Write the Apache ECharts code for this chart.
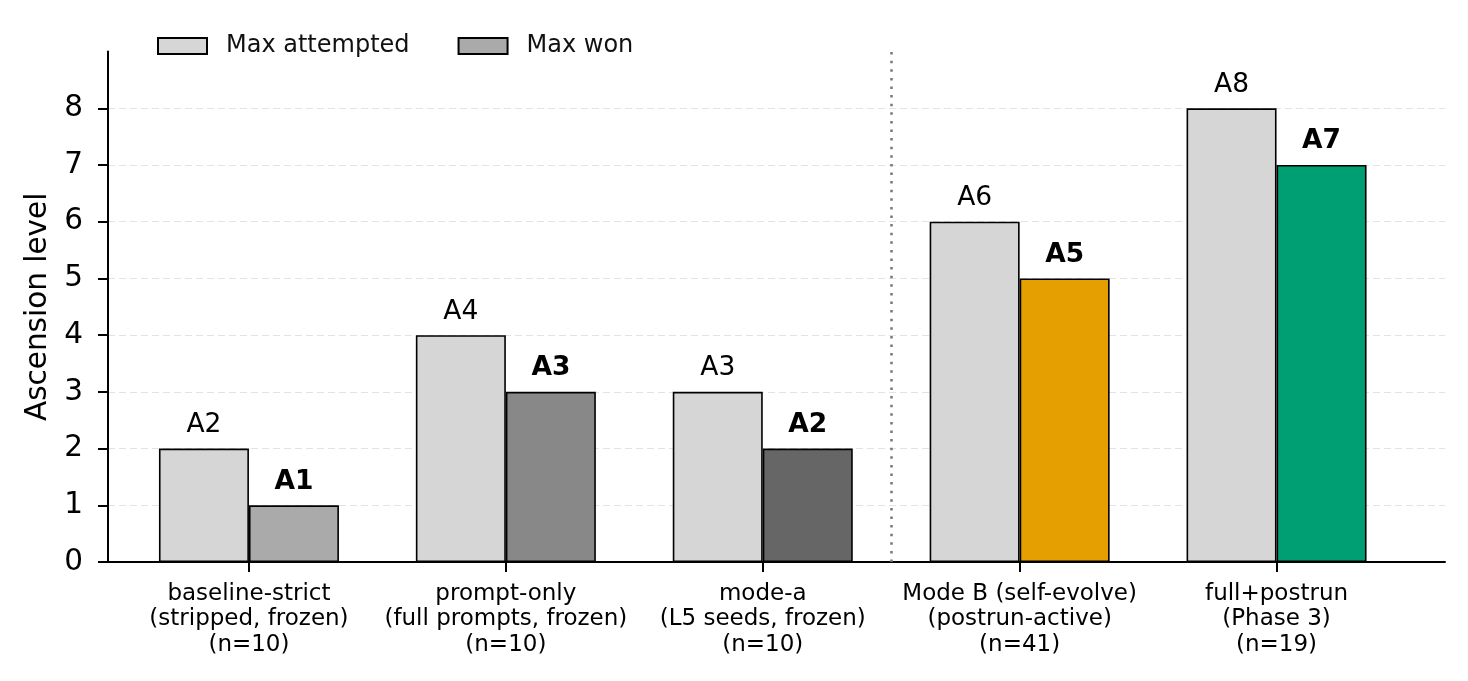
<!DOCTYPE html>
<html>
<head>
<meta charset="utf-8">
<script src="https://cdn.jsdelivr.net/npm/echarts@6/dist/echarts.min.js"></script>
<style>
  html, body { margin: 0; padding: 0; background: #fff; }
  #chart { width: 1468px; height: 681px; }
</style>
</head>
<body>
<div id="chart"></div>
<script>
(function() {
  'use strict';

  var categories = [
    'baseline-strict\n(stripped, frozen)\n(n=10)',
    'prompt-only\n(full prompts, frozen)\n(n=10)',
    'mode-a\n(L5 seeds, frozen)\n(n=10)',
    'Mode B (self-evolve)\n(postrun-active)\n(n=41)',
    'full+postrun\n(Phase 3)\n(n=19)'
  ];
  var maxAttempted = [2, 4, 3, 6, 8];
  var maxWon = [1, 3, 2, 5, 7];
  var wonColors = ['#aaaaaa', '#888888', '#666666', '#e69f00', '#009e73'];
  var yTicks = [0, 1, 2, 3, 4, 5, 6, 7, 8];
  var dividerAt = 2.5;

  var FONT = 'DejaVu Sans';
  var TOP = 51.6, BOTTOM = 119;

  var chart = echarts.init(document.getElementById('chart'), null, { renderer: 'canvas' });

  chart.setOption({
    animation: false,
    textStyle: { fontFamily: FONT },
    legend: {
      left: 157,
      top: 34,
      padding: 0,
      itemWidth: 49,
      itemHeight: 16,
      itemGap: 48,
      icon: 'rect',
      textStyle: { fontFamily: FONT, fontSize: 24, color: '#111', lineHeight: 24, padding: [0, 0, 0, 14] },
      data: ['Max attempted', 'Max won']
    },
    grid: [
      { left: 120.5, right: 63, top: TOP, bottom: BOTTOM },
      { left: 108, right: 23, top: TOP, bottom: BOTTOM }
    ],
    xAxis: [
      {
        type: 'category',
        gridIndex: 0,
        data: categories,
        axisLine: { show: false },
        axisTick: { show: true, alignWithLabel: true, length: 10, lineStyle: { color: '#000', width: 2 } },
        axisLabel: { interval: 0, hideOverlap: false, fontFamily: FONT, fontSize: 23, lineHeight: 25.5, color: '#000', margin: 19 },
        splitLine: { show: false }
      },
      {
        type: 'value',
        gridIndex: 1,
        min: -0.549,
        max: 4.656,
        axisLine: { show: true, onZero: false, lineStyle: { color: '#000', width: 2 } },
        axisTick: { show: false },
        axisLabel: { show: false },
        splitLine: { show: false }
      }
    ],
    yAxis: [
      { type: 'value', gridIndex: 0, min: 0, max: 9, show: false },
      {
        type: 'value',
        gridIndex: 1,
        min: 0,
        max: 9,
        interval: 1,
        name: 'Ascension level',
        nameLocation: 'middle',
        nameGap: 55,
        nameTextStyle: { fontFamily: FONT, fontSize: 29.5, color: '#000' },
        axisLine: { show: true, onZero: false, lineStyle: { color: '#000', width: 2 } },
        axisTick: { show: true, length: 10, customValues: yTicks, lineStyle: { color: '#000', width: 2 } },
        axisLabel: { fontFamily: FONT, fontSize: 29.5, color: '#000', margin: 25, customValues: yTicks },
        splitLine: { show: true, lineStyle: { color: '#e3e3e3', width: 1, type: [7, 4] } }
      }
    ],
    series: [
      {
        name: 'Max attempted',
        type: 'bar',
        xAxisIndex: 0,
        yAxisIndex: 0,
        data: maxAttempted,
        barWidth: 90,
        barGap: '0%',
        itemStyle: { color: '#d6d6d6', borderColor: '#000', borderWidth: 1.6 },
        label: { show: true, position: 'top', distance: 10, formatter: 'A{c}', fontFamily: FONT, fontSize: 26.5, color: '#000' }
      },
      {
        name: 'Max won',
        type: 'bar',
        xAxisIndex: 0,
        yAxisIndex: 0,
        data: maxWon.map(function(v, i) {
          return { value: v, itemStyle: { color: wonColors[i] } };
        }),
        barWidth: 90,
        barGap: '0%',
        itemStyle: { color: '#aaaaaa', borderColor: '#000', borderWidth: 1.6 },
        label: { show: true, position: 'top', distance: 10, formatter: 'A{c}', fontFamily: FONT, fontSize: 26.5, fontWeight: 'bold', color: '#000' }
      },
      {
        name: 'divider',
        type: 'line',
        xAxisIndex: 1,
        yAxisIndex: 1,
        data: [],
        markLine: {
          silent: true,
          symbol: ['none', 'none'],
          label: { show: false },
          lineStyle: { color: '#777', width: 2.5, type: [2.5, 6.1] },
          data: [{ xAxis: dividerAt }]
        }
      }
    ]
  });
})();
</script>
</body>
</html>
